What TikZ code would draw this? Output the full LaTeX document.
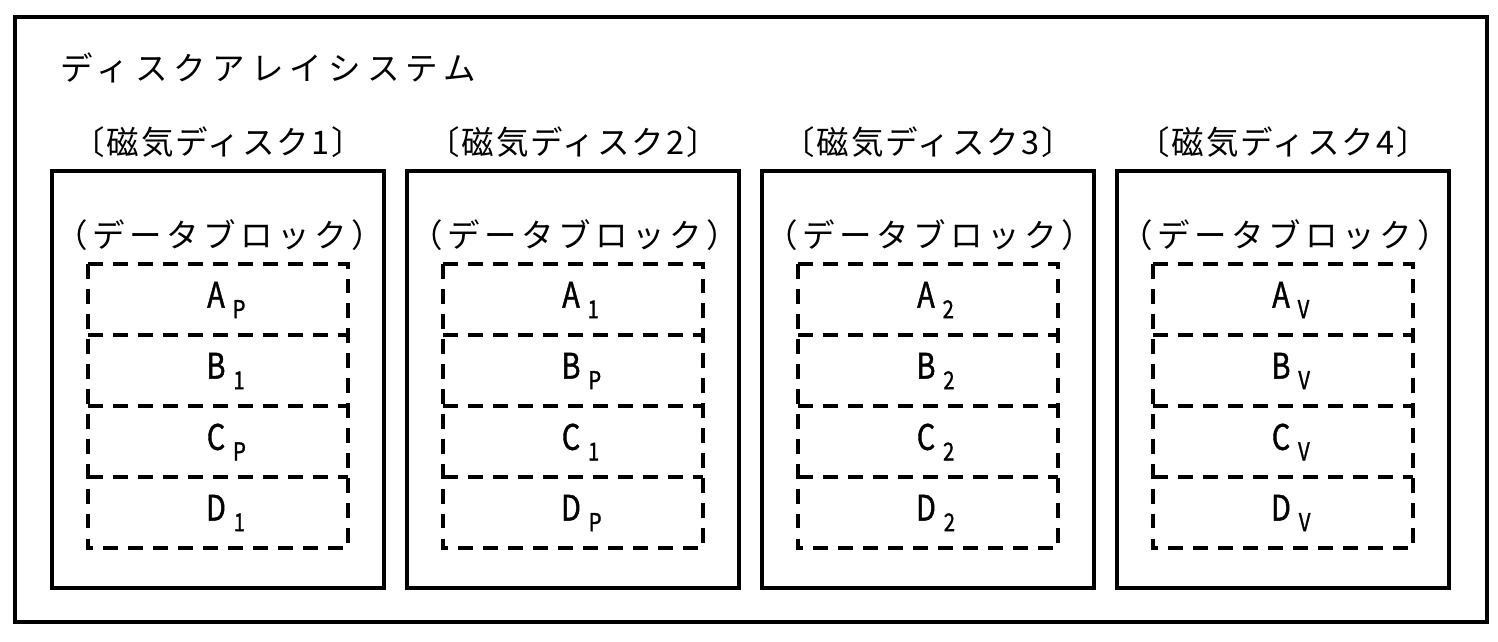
\documentclass[tikz,border=0pt]{standalone}
\usepackage{fontspec}
\setmainfont{Noto Sans CJK JP}
\tikzset{
  jptext/.style={inner sep=0pt, font=\fontsize{18.5}{18.5}\selectfont},
  titletext/.style={jptext, font=\fontsize{18.5}{18.5}\selectfont\addfontfeature{LetterSpace=19}},
  disklabel/.style={jptext, font=\fontsize{18.5}{18.5}\selectfont\addfontfeature{LetterSpace=6}},
  blklabel/.style={jptext, font=\fontsize{18.5}{18.5}\selectfont\addfontfeature{LetterSpace=14}},
  cellbox/.style={line width=2.1pt, dash pattern=on 8.5pt off 5.7pt},
  celltext/.style={inner sep=0pt, font=\fontsize{20}{20}\selectfont\addfontfeature{FakeStretch=0.82,FakeBold=1.2}}
}
\newcommand{\blk}[2]{#1\rlap{\kern4.5pt\raisebox{-6pt}{\fontsize{14}{14}\selectfont #2}}}
\begin{document}
\begin{tikzpicture}[x=0.2mm,y=-0.2mm, line width=2.3pt]
  \useasboundingbox (0,0) rectangle (1498,641);
  % outer frame
  \draw (15,17) rectangle (1487,622);
  \node[titletext, anchor=west] (title) at (58,68) {ディスクアレイシステム};
  % four disks
  \foreach \n/\a/\b/\c/\d in {1/P/1/P/1, 2/1/P/1/P, 3/2/2/2/2, 4/V/V/V/V}
  {
    \begin{scope}[shift={(52+355*\n-355,171)}]
      \draw (0,0) rectangle (332,417);
      \node[disklabel] (disk\n) at (166,-29) {〔磁気ディスク\n〕};
      \node[blklabel] (blk\n) at (168,64) {（データブロック）};
      \draw[cellbox] (36,93) rectangle (296,377);
      \foreach \r in {1,2,3}
        \draw[cellbox] (36,93+71*\r) -- (296,93+71*\r);
      \foreach \r/\l/\s in {0/A/\a, 1/B/\b, 2/C/\c, 3/D/\d}
        \node[celltext] (cell\n\l) at (164,129+71*\r) {\blk{\l}{\s}};
    \end{scope}
  }
\end{tikzpicture}
\end{document}
